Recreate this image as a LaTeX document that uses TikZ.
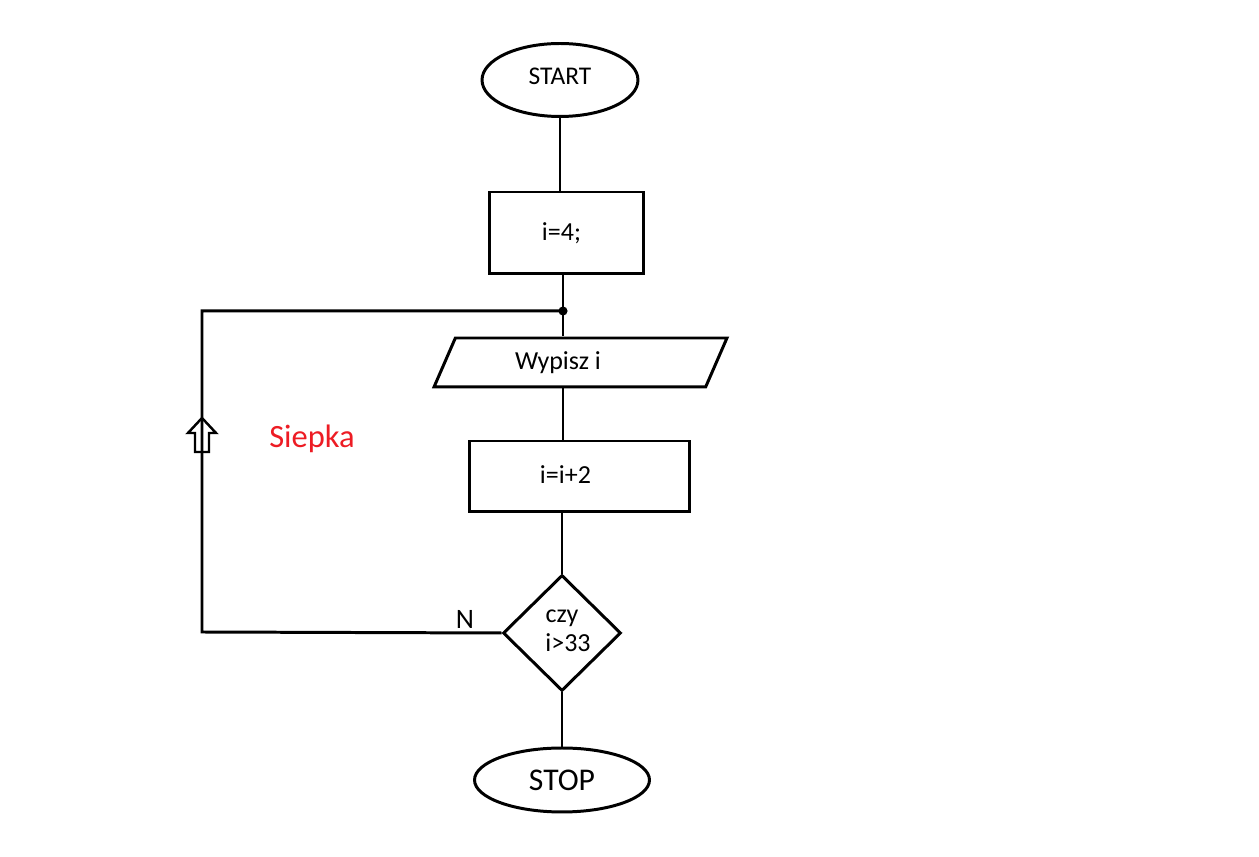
\documentclass[tikz,border=0pt]{standalone}
\usepackage{fontspec}
\setmainfont{Carlito}
\usetikzlibrary{shapes.geometric}
\definecolor{paintred}{RGB}{237,28,36}

\begin{document}
\begin{tikzpicture}[x=0.02cm,y=-0.02cm,line width=1.7pt,
                    font=\fontsize{14.8}{17}\selectfont,
                    terminal/.style={ellipse,draw,inner sep=0pt},
                    process/.style={rectangle,draw,inner sep=0pt},
                    io/.style={trapezium,trapezium left angle=46,
                      trapezium right angle=134,trapezium stretches body,
                      draw,inner sep=0pt},
                    decision/.style={diamond,draw,inner sep=0pt,align=center}]
  \useasboundingbox (0,0) rectangle (1259,857);

  % blocks
  \node[terminal,minimum width=3.12cm,minimum height=1.46cm,
        font=\fontsize{14.5}{16}\selectfont] (start) at (560,80) {\raisebox{4pt}{START}};
  \node[process,minimum width=3.1cm,minimum height=1.64cm]  (init) at (566.5,233) {i=4;\hspace*{0.2cm}};
  \node[io,minimum width=5.86cm,minimum height=0.98cm]      (wyp)  at (580.5,362.5) {Wypisz i\hspace*{0.9cm}};
  \node[process,minimum width=4.42cm,minimum height=1.42cm] (inc)  at (579.5,476.5) {\raisebox{2pt}{i=i+2}\hspace*{0.56cm}};
  \node[decision,minimum width=2.36cm,minimum height=2.32cm] (test) at (562,633)
        {\raisebox{3pt}{\shortstack{czy\\[1pt]\hspace*{0.24cm}i>33}}};
  \node[terminal,minimum width=3.5cm,minimum height=1.28cm,
        font=\fontsize{18}{20}\selectfont] (stop) at (562,780) {STOP};

  % loop corners
  \coordinate (j)       at (563,311);
  \coordinate (loopTop) at (202,311);
  \coordinate (loopBot) at (202,632);

  % connectors
  \draw (start.south) -- (start.south |- init.north);
  \draw (init.south -| j) -- (j) -- (wyp.north -| j);
  \draw (wyp.south -| j) -- (inc.north -| j);
  \draw (inc.south -| test.north) -- (test.north);
  \draw (test.south) -- (stop.north);
  \draw (j) -- (loopTop) -- (loopBot) -- (test.west);
  \fill (j) circle (2.6pt);

  % hollow arrow on the loop
  \draw[line width=1.4pt,line join=miter]
    (202,418) -- (216,433) -- (209,433) -- (209,452)
    -- (195,452) -- (195,433) -- (188,433) -- cycle;

  % labels
  \node[font=\fontsize{16}{18}\selectfont] (nlab) at (465,619) {N};
  \node[paintred,font=\fontsize{18.5}{20}\selectfont] (siepka) at (312,439) {Siepka};
\end{tikzpicture}
\end{document}
